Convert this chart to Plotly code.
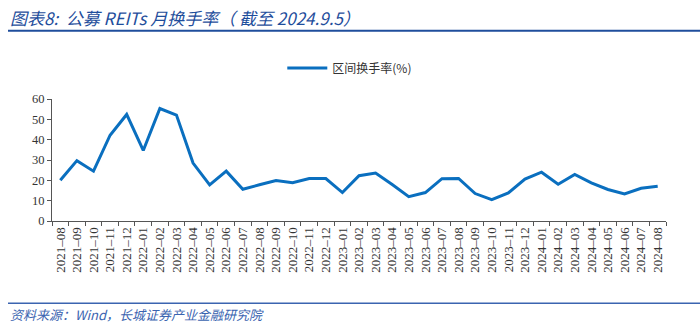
import plotly.graph_objects as go

months = [
    "2021-08", "2021-09", "2021-10", "2021-11", "2021-12",
    "2022-01", "2022-02", "2022-03", "2022-04", "2022-05", "2022-06",
    "2022-07", "2022-08", "2022-09", "2022-10", "2022-11", "2022-12",
    "2023-01", "2023-02", "2023-03", "2023-04", "2023-05", "2023-06",
    "2023-07", "2023-08", "2023-09", "2023-10", "2023-11", "2023-12",
    "2024-01", "2024-02", "2024-03", "2024-04", "2024-05", "2024-06",
    "2024-07", "2024-08",
]
turnover = [
    20.0, 29.7, 24.5, 42.2, 52.4,
    34.7, 55.3, 52.1, 28.5, 17.8, 24.5,
    15.6, 17.8, 19.9, 18.8, 20.9, 20.9,
    14.0, 22.3, 23.6, 17.9, 12.0, 14.0,
    20.8, 20.9, 13.5, 10.5, 13.8, 20.6,
    24.0, 18.1, 22.9, 18.8, 15.5, 13.3,
    16.1, 17.1,
]
y_ticks = [0, 10, 20, 30, 40, 50, 60]

tick_text = [m.replace("-", "–") for m in months]

fig = go.Figure()
fig.add_trace(go.Scatter(
    x=months, y=turnover, mode="lines",
    name="区间换手率(%)",
    line=dict(color="#0a6fbf", width=3),
))

serif = "Liberation Serif, Times New Roman, serif"

fig.update_layout(
    width=700, height=333,
    margin=dict(l=52, r=34, t=99, b=112),
    paper_bgcolor="white", plot_bgcolor="white",
    showlegend=True,
    legend=dict(
        orientation="h", x=0.485, xanchor="center", y=1.255, yanchor="middle",
        font=dict(family="Noto Sans CJK SC", size=12, color="#333333"),
        itemwidth=40,
    ),
    xaxis=dict(
        type="category", tickmode="array", tickvals=months, ticktext=tick_text,
        tickangle=-90, tickfont=dict(family=serif, size=13, color="#333333"),
        showline=True, linecolor="#555555", linewidth=1,
        ticks="outside", ticklen=4, tickcolor="#555555", tickson="boundaries",
        showgrid=False, range=[-0.5, len(months) - 0.5],
    ),
    yaxis=dict(
        range=[0, 60], tickvals=y_ticks,
        tickfont=dict(family=serif, size=12.5, color="#333333"),
        showline=True, linecolor="#555555", linewidth=1,
        ticks="outside", ticklen=4, tickcolor="#555555",
        showgrid=False, zeroline=False,
    ),
)

# header and footer rules
fig.add_shape(type="line", xref="paper", yref="paper",
              x0=-44 / 614, x1=(700 - 52) / 614, y0=1 + 68 / 121.7, y1=1 + 68 / 121.7,
              line=dict(color="#1f4e9c", width=2))
fig.add_shape(type="line", xref="paper", yref="paper",
              x0=-44 / 614, x1=(700 - 52) / 614, y0=-82 / 121.7, y1=-82 / 121.7,
              line=dict(color="#3b64b0", width=1.5))

fig.add_annotation(
    xref="paper", yref="paper", x=-44 / 614, y=1 + 81 / 121.7,
    xanchor="left", yanchor="middle", showarrow=False,
    text="<i>图表8:&nbsp;&nbsp;公募 REITs 月换手率（&nbsp;截至 2024.9.5）</i>",
    font=dict(family="Noto Sans CJK SC", size=17, color="#1f4e9c"),
)
fig.add_annotation(
    xref="paper", yref="paper", x=-44 / 614, y=-93 / 121.7,
    xanchor="left", yanchor="middle", showarrow=False,
    text="<i>资料来源：Wind，长城证券产业金融研究院</i>",
    font=dict(family="Noto Sans CJK SC", size=13, color="#3b64b0"),
)

fig.write_html("out.html")
